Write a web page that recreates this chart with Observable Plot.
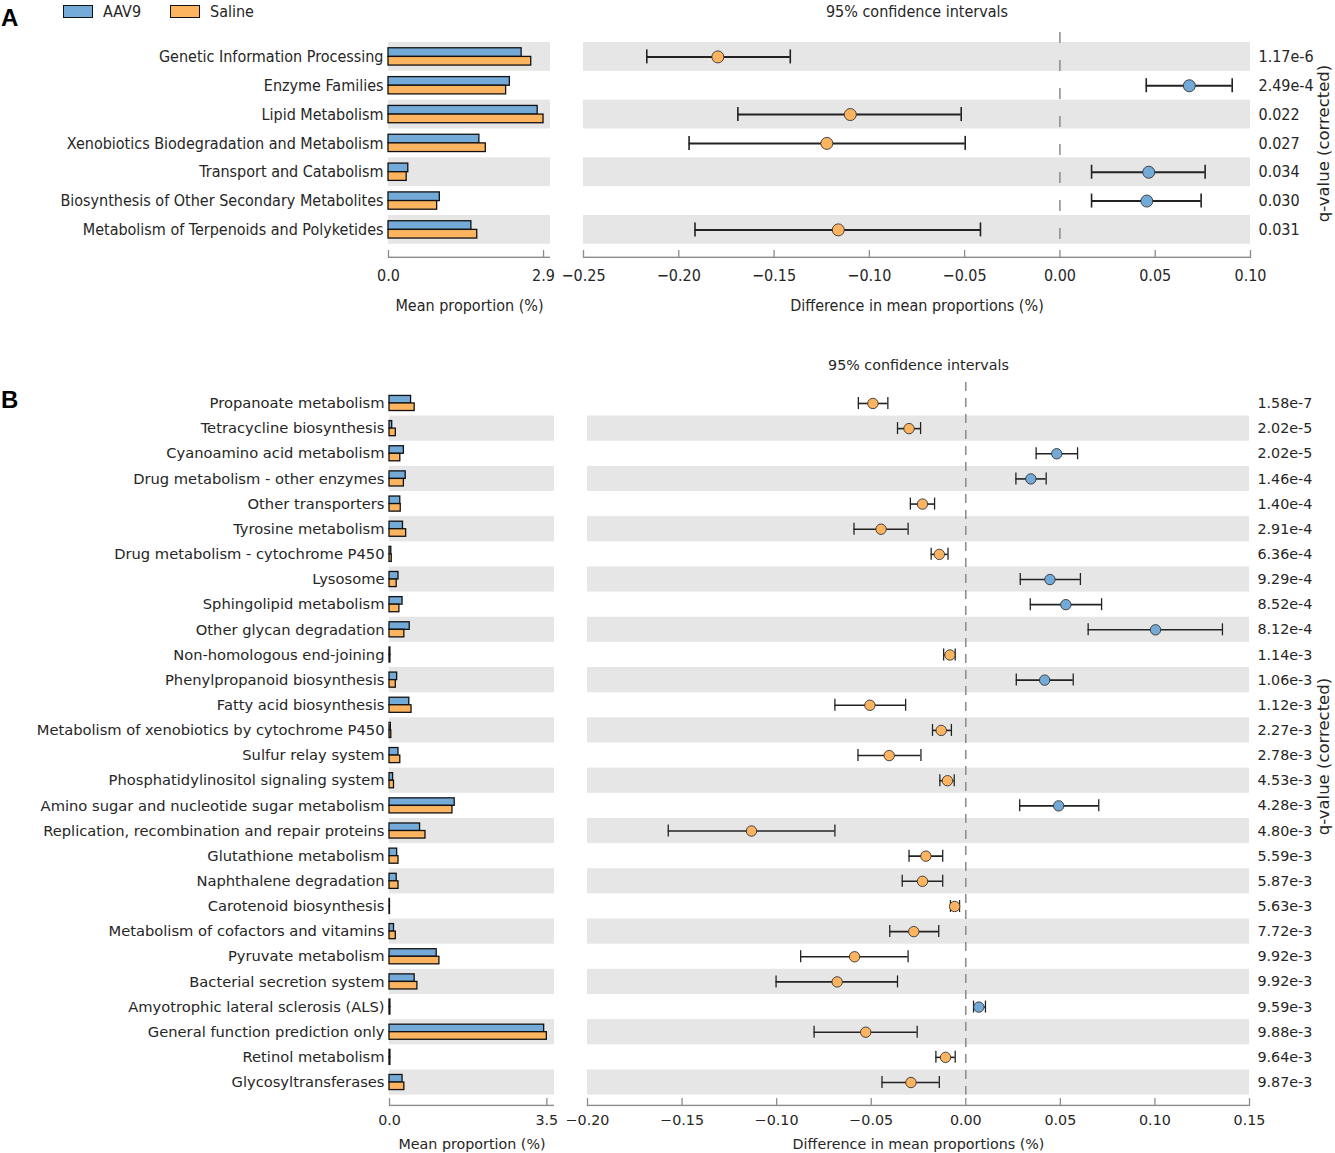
<!DOCTYPE html>
<html><head><meta charset="utf-8">
<script src="https://cdn.jsdelivr.net/npm/d3@7"></script>
<script src="https://cdn.jsdelivr.net/npm/@observablehq/plot@0.6"></script>
<style>
body{margin:0;background:#fff;}
#root{position:relative;width:1335px;height:1153px;overflow:hidden;font-family:"DejaVu Sans",sans-serif;color:#262626;}
.abs{position:absolute;}
.cond{font-family:"DejaVu Sans Condensed","DejaVu Sans",sans-serif;font-stretch:condensed;}
.panel{position:absolute;font:bold 24px "Liberation Sans",Arial,sans-serif;color:#000;}
.sw{position:absolute;width:28px;height:11px;border:1.5px solid #111;}
</style></head><body><div id="root"></div>
<script>
// ---------- Panel A data ----------
const A_cats = ["Genetic Information Processing","Enzyme Families","Lipid Metabolism","Xenobiotics Biodegradation and Metabolism","Transport and Catabolism","Biosynthesis of Other Secondary Metabolites","Metabolism of Terpenoids and Polyketides"];
const A_aav9 = [2.49, 2.27, 2.79, 1.70, 0.37, 0.96, 1.55];
const A_saline = [2.67, 2.20, 2.90, 1.82, 0.34, 0.91, 1.66];
const A_diff = [-0.1795, 0.0679, -0.110, -0.1223, 0.0466, 0.0456, -0.1163];
const A_lo = [-0.2168, 0.0453, -0.169, -0.1946, 0.0166, 0.0166, -0.1915];
const A_hi = [-0.1415, 0.0904, -0.0518, -0.0497, 0.0762, 0.0741, -0.0417];
const A_q = ["1.17e-6","2.49e-4","0.022","0.027","0.034","0.030","0.031"];
const A_barTicks = [0, 2.9];
const A_barMax = 3.03;
const A_ciDomain = [-0.25, 0.10];
const A_ciTicks = [-0.25, -0.20, -0.15, -0.10, -0.05, 0.00, 0.05, 0.10];

// ---------- Panel B data ----------
const B_cats = ["Propanoate metabolism","Tetracycline biosynthesis","Cyanoamino acid metabolism","Drug metabolism - other enzymes","Other transporters","Tyrosine metabolism","Drug metabolism - cytochrome P450","Lysosome","Sphingolipid metabolism","Other glycan degradation","Non-homologous end-joining","Phenylpropanoid biosynthesis","Fatty acid biosynthesis","Metabolism of xenobiotics by cytochrome P450","Sulfur relay system","Phosphatidylinositol signaling system","Amino sugar and nucleotide sugar metabolism","Replication, recombination and repair proteins","Glutathione metabolism","Naphthalene degradation","Carotenoid biosynthesis","Metabolism of cofactors and vitamins","Pyruvate metabolism","Bacterial secretion system","Amyotrophic lateral sclerosis (ALS)","General function prediction only","Retinol metabolism","Glycosyltransferases"];
const B_aav9 = [0.48,0.06,0.32,0.36,0.24,0.30,0.04,0.20,0.29,0.45,0.02,0.17,0.44,0.03,0.20,0.08,1.45,0.68,0.17,0.16,0.01,0.10,1.05,0.56,0.02,3.44,0.02,0.29];
const B_saline = [0.56,0.14,0.24,0.32,0.25,0.37,0.05,0.16,0.22,0.33,0.02,0.14,0.49,0.04,0.24,0.10,1.40,0.80,0.20,0.20,0.01,0.14,1.11,0.62,0.02,3.50,0.02,0.33];
const B_diff = [-0.0491,-0.0300,0.0481,0.0344,-0.0229,-0.0448,-0.0140,0.0445,0.0529,0.1003,-0.0084,0.0417,-0.0507,-0.0130,-0.0405,-0.0097,0.0491,-0.1133,-0.0211,-0.0229,-0.0059,-0.0275,-0.0588,-0.0680,0.0069,-0.0529,-0.0107,-0.0290];
const B_lo = [-0.0568,-0.0361,0.0372,0.0265,-0.0293,-0.0591,-0.0183,0.0288,0.0341,0.0647,-0.0117,0.0267,-0.0692,-0.0176,-0.0570,-0.0137,0.0285,-0.1573,-0.0300,-0.0336,-0.0081,-0.0402,-0.0873,-0.1003,0.0041,-0.0802,-0.0158,-0.0443];
const B_hi = [-0.0412,-0.0239,0.0591,0.0425,-0.0165,-0.0305,-0.0094,0.0606,0.0718,0.1357,-0.0056,0.0568,-0.0318,-0.0076,-0.0237,-0.0061,0.0703,-0.0692,-0.0122,-0.0122,-0.0033,-0.0143,-0.0305,-0.0361,0.0104,-0.0257,-0.0056,-0.0140];
const B_q = ["1.58e-7","2.02e-5","2.02e-5","1.46e-4","1.40e-4","2.91e-4","6.36e-4","9.29e-4","8.52e-4","8.12e-4","1.14e-3","1.06e-3","1.12e-3","2.27e-3","2.78e-3","4.53e-3","4.28e-3","4.80e-3","5.59e-3","5.87e-3","5.63e-3","7.72e-3","9.92e-3","9.92e-3","9.59e-3","9.88e-3","9.64e-3","9.87e-3"];
const B_barTicks = [0, 3.5];
const B_barMax = 3.67;
const B_ciDomain = [-0.20, 0.15];
const B_ciTicks = [-0.20, -0.15, -0.10, -0.05, 0.00, 0.05, 0.10, 0.15];

const legendLabels = ["AAV9", "Saline"];
const BLUE = "#74aad8", ORANGE = "#fdb461", BAND = "#e6e6e6", AXIS = "#8c8c8c", TEXT = "#262626";
const CONDENSED = "'DejaVu Sans Condensed','DejaVu Sans',sans-serif";
const NORMAL = "'DejaVu Sans',sans-serif";

function shadedRows(cats){ const n = cats.length; return cats.filter((c,i)=>(n-1-i)%2===0); }

function axisMarks(o, xMin, xMax, ticks, fmt, frameH){
  return [
    Plot.barX([0], {x1: xMin, x2: xMax, insetTop: frameH - 1.4, fill: AXIS}),
    Plot.ruleX(ticks, {x: d=>d, insetTop: frameH - 8, stroke: AXIS, strokeWidth: 1.3}),
    Plot.axisX({ticks, tickSize: 0, tickPadding: o.axisPad, tickFormat: d3.format(fmt), fill: TEXT, fontSize: o.tickFont, label: null}),
  ];
}

function barsPanel(o){
  const n = o.cats.length;
  const frameH = o.insetTop + n*o.step + o.insetBottom;
  const height = o.marginTop + frameH + o.marginBottom;
  const rows = o.cats.map((c,i)=>({c, a:o.aav9[i], s:o.saline[i]}));
  return Plot.plot({
    width: o.width, height, marginTop: o.marginTop, marginBottom: o.marginBottom,
    marginLeft: o.marginLeft, marginRight: o.marginRight,
    style: {fontFamily: o.font, fontSize: o.fontSize+"px", color: TEXT, background: "transparent", overflow: "visible"},
    x: {domain: [0, o.xMax]},
    y: {type: "band", domain: o.cats, padding: 0, round: false, insetTop: o.insetTop, insetBottom: o.insetBottom},
    marks: [
      Plot.barX(shadedRows(o.cats), {y: d=>d, x1: 0, x2: o.xMax, fill: BAND}),
      Plot.barX(rows, {y: "c", x1: 0, x2: "a", fill: BLUE, stroke: "#111", strokeWidth: 1.3, insetTop: o.step*0.2, insetBottom: o.step*0.5}),
      Plot.barX(rows, {y: "c", x1: 0, x2: "s", fill: ORANGE, stroke: "#111", strokeWidth: 1.3, insetTop: o.step*0.5, insetBottom: o.step*0.2}),
      Plot.axisY({tickSize: 0, tickPadding: 5, fill: TEXT, fontSize: o.fontSize, label: null}),
      ...axisMarks(o, 0, o.xMax, o.ticks, ".1f", frameH),
      Plot.text(["Mean proportion (%)"], {frameAnchor: "bottom", lineAnchor: "middle", dy: o.titleDy, fill: TEXT, fontSize: o.tickFont}),
    ]
  });
}

function ciPanel(o){
  const n = o.cats.length;
  const frameH = o.insetTop + n*o.step + o.insetBottom;
  const height = o.marginTop + frameH + o.marginBottom;
  const rows = o.cats.map((c,i)=>({c, d:o.diff[i], lo:o.lo[i], hi:o.hi[i], q:o.q[i]}));
  const capInset = (o.step - o.capH)/2;
  return Plot.plot({
    width: o.width, height, marginTop: o.marginTop, marginBottom: o.marginBottom,
    marginLeft: o.marginLeft, marginRight: o.marginRight,
    style: {fontFamily: o.font, fontSize: o.fontSize+"px", color: TEXT, background: "transparent", overflow: "visible"},
    x: {domain: o.domain},
    y: {type: "band", domain: o.cats, padding: 0, round: false, insetTop: o.insetTop, insetBottom: o.insetBottom, axis: null},
    marks: [
      Plot.barX(shadedRows(o.cats), {y: d=>d, x1: o.domain[0], x2: o.domain[1], fill: BAND}),
      Plot.ruleX([0], {x: d=>d, stroke: "#8a8a8a", strokeWidth: 1.5, strokeDasharray: o.dash, insetBottom: o.insetBottom}),
      Plot.ruleY(rows, {y: "c", x1: "lo", x2: "hi", stroke: "#222", strokeWidth: o.lineW}),
      Plot.tickX(rows, {y: "c", x: "lo", stroke: "#222", strokeWidth: o.lineW*0.8, insetTop: capInset, insetBottom: capInset}),
      Plot.tickX(rows, {y: "c", x: "hi", stroke: "#222", strokeWidth: o.lineW*0.8, insetTop: capInset, insetBottom: capInset}),
      Plot.dot(rows.filter(d=>d.d<0), {y: "c", x: "d", r: o.r, fill: ORANGE, stroke: "#333", strokeWidth: 0.9}),
      Plot.dot(rows.filter(d=>d.d>=0), {y: "c", x: "d", r: o.r, fill: BLUE, stroke: "#333", strokeWidth: 0.9}),
      Plot.text(rows, {y: "c", x: () => o.domain[1], text: "q", textAnchor: "start", dx: 8, fill: TEXT, fontSize: o.tickFont}),
      Plot.text(["q-value (corrected)"], {frameAnchor: "right", rotate: -90, textAnchor: "middle", lineAnchor: "middle", dx: o.qLabelDx, dy: o.qLabelDy, fill: TEXT, fontSize: 16.5, fontFamily: NORMAL}),
      Plot.text(["95% confidence intervals"], {frameAnchor: "top", lineAnchor: "middle", dy: o.ciTitleDy, fill: TEXT, fontSize: o.tickFont}),
      ...axisMarks(o, o.domain[0], o.domain[1], o.ticks, ".2f", frameH),
      Plot.text(["Difference in mean proportions (%)"], {frameAnchor: "bottom", lineAnchor: "middle", dy: o.titleDy, fill: TEXT, fontSize: o.tickFont}),
    ]
  });
}

const root = document.getElementById("root");
function place(el, left, top){ const d = document.createElement("div"); d.className = "abs"; d.style.left = left+"px"; d.style.top = top+"px"; d.appendChild(el); root.appendChild(d); }

// Panel A
const A_common = {cats: A_cats, step: 28.83, marginTop: 32, insetTop: 10, insetBottom: 14.2, marginBottom: 60, font: CONDENSED, fontSize: 16, tickFont: 16, axisPad: 11, titleDy: 47};
place(barsPanel({...A_common, aav9: A_aav9, saline: A_saline, xMax: A_barMax, ticks: A_barTicks, width: 560, marginLeft: 388, marginRight: 10}), 0, 0);
place(ciPanel({...A_common, diff: A_diff, lo: A_lo, hi: A_hi, q: A_q, domain: A_ciDomain, ticks: A_ciTicks, width: 775, marginLeft: 23, marginRight: 85, r: 6, capH: 14, lineW: 2, dash: "11,17", qLabelDx: 73, qLabelDy: -2, ciTitleDy: -21}), 560, 0);

// Panel B
const B_common = {cats: B_cats, step: 25.15, marginTop: 42, insetTop: 8.4, insetBottom: 11.5, marginBottom: 47, font: NORMAL, fontSize: 14.7, tickFont: 14.3, axisPad: 8, titleDy: 38};
place(barsPanel({...B_common, aav9: B_aav9, saline: B_saline, xMax: B_barMax, ticks: B_barTicks, width: 560, marginLeft: 389, marginRight: 6}), 0, 340);
place(ciPanel({...B_common, diff: B_diff, lo: B_lo, hi: B_hi, q: B_q, domain: B_ciDomain, ticks: B_ciTicks, width: 775, marginLeft: 27, marginRight: 86, r: 5.2, capH: 12, lineW: 1.6, dash: "9,7", qLabelDx: 74, qLabelDy: 12, ciTitleDy: -17}), 560, 340);

// Panel letters and legend
function addHTML(html){ root.insertAdjacentHTML("beforeend", html); }
addHTML(`<div class="panel" style="left:1px;top:4px;">A</div>`);
addHTML(`<div class="panel" style="left:1px;top:386px;">B</div>`);
[BLUE, ORANGE].forEach((c,i)=>{
  const x = 63 + i*107;
  addHTML(`<div class="sw" style="left:${x}px;top:5px;background:${c};"></div>`);
  addHTML(`<div class="abs cond" style="left:${x+40}px;top:2px;font-size:16px;color:${TEXT};">${legendLabels[i]}</div>`);
});
</script>
</body></html>
